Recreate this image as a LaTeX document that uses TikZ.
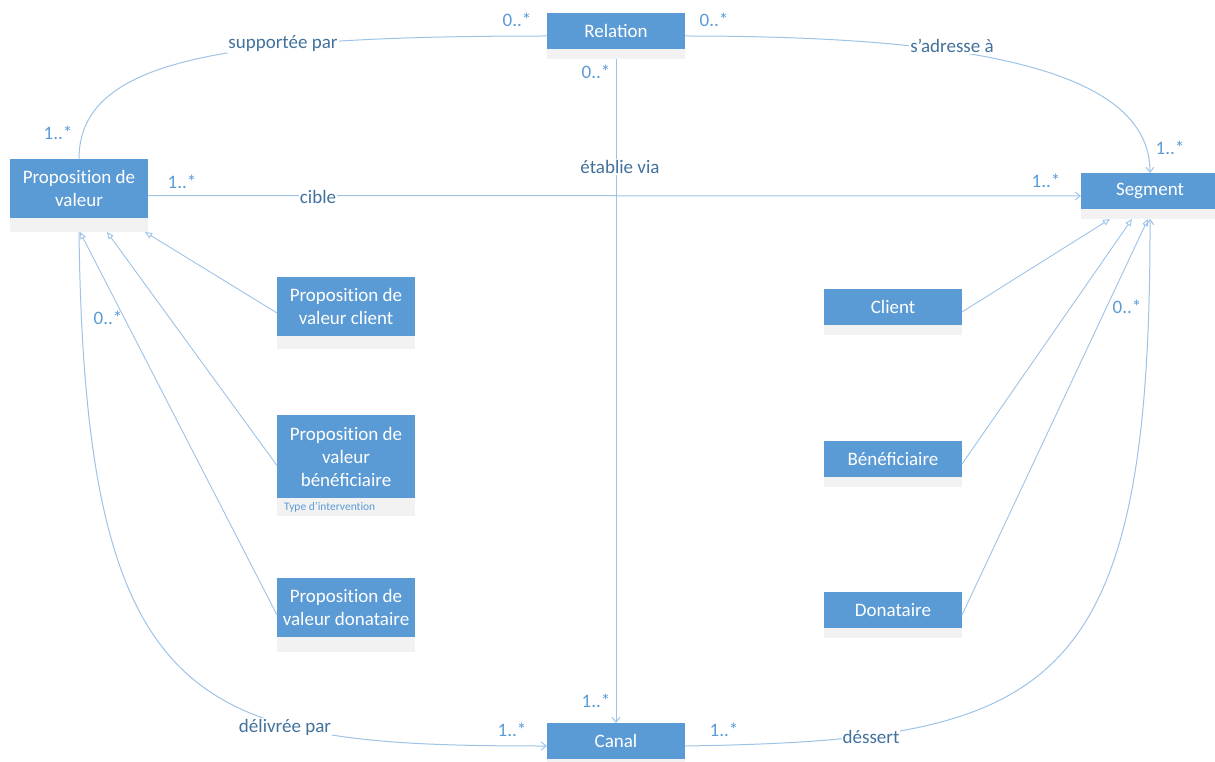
\documentclass[tikz,border=0pt]{standalone}
\usepackage{fontspec}
\setmainfont{Carlito}
\usetikzlibrary{arrows.meta}

\definecolor{classblue}{HTML}{5B9BD5}
\definecolor{classgrey}{HTML}{F2F2F2}
\definecolor{linkblue}{HTML}{9DC3E6}
\definecolor{rolecol}{HTML}{41719C}
\definecolor{multcol}{HTML}{5B9BD5}

% keep "t" and "i" as separate glyphs
\newcommand\tI{t\kern0pt i}

\tikzset{
  classbox/.style={rectangle, fill=classgrey, draw=none, minimum width=138pt,
    inner sep=0pt, outer sep=0pt},
  classname/.style={text=white, align=center, inner sep=0pt,
    font=\fontsize{19}{23}\selectfont},
  attrtext/.style={text=multcol, inner sep=0pt, font=\fontsize{11.5}{13}\selectfont},
  assoc/.style={draw=linkblue, line width=1pt},
  navig/.style={assoc, -{Straight Barb[length=5pt,width=8pt]}},
  inherit/.style={draw=linkblue, line width=0.9pt,
    -{Triangle[open,length=7pt,width=6pt]}},
  rolename/.style={text=rolecol, fill=white, inner sep=1pt,
    font=\fontsize{19}{23}\selectfont},
  mult/.style={text=multcol, inner sep=0pt, font=\fontsize{19}{23}\selectfont},
}

% class box: name, x, top y, height of the blue title, total height, title
\newcommand\umlclass[6]{%
  \node[classbox, minimum height=#5pt, anchor=north west] (#1) at (#2,#3) {};
  \fill[classblue] (#1.north west) rectangle ([yshift=-#4pt]#1.north east);
  \path (#1.north west) -- ([yshift=-#4pt]#1.north east)
    node[midway, classname] (#1-name) {#6};
}

\begin{document}
\begin{tikzpicture}[x=1pt, y=-1pt]
\useasboundingbox (0,0) rectangle (1215,762);

% classes
\umlclass{pv}{10}{159}{59}{73}{Proposi\tI on de\\valeur}
\umlclass{rel}{547}{13}{36}{46}{Relation}
\umlclass{seg}{1081}{173}{36}{46}{Segment}
\umlclass{can}{547}{723}{36}{46}{Canal}
\umlclass{pvc}{277}{277}{59}{72}{Proposi\tI on de\\valeur client}
\umlclass{pvb}{277}{415}{83}{101}{Proposi\tI on de\\valeur\\bénéficiaire}
\umlclass{pvd}{277}{578}{59}{74}{Proposi\tI on de\\valeur donataire}
\umlclass{cli}{824}{289}{36}{46}{Client}
\umlclass{ben}{824}{441}{36}{46}{Bénéficiaire}
\umlclass{don}{824}{592}{36}{46}{Donataire}
\node[attrtext, anchor=west] (pvb-attr) at (284,507) {Type d'interven\tI on};

% associations
\draw[assoc] (rel.west) .. controls +(-327,0) and +(0,-99) .. (pv.north);
\draw[navig] (rel.east) .. controls +(300,0) and +(0,-100) .. (seg.north);
\draw[navig] (rel.south) -- (can.north);
\draw[navig] (pv.east) -- (seg.west);
\draw[navig] (pv.south) .. controls +(6,488) and +(-347,0) .. (can.west);
\draw[navig] (can.east) .. controls +(365,-6) and +(1,481) .. (seg.south);

% generalisations
\draw[inherit] (pvc.west) -- ([xshift=66pt]pv.south);
\draw[inherit] (pvb.west) -- ([xshift=28pt]pv.south);
\draw[inherit] (pvd.west) -- ([xshift=1pt]pv.south);
\draw[inherit] (cli.east) -- ([xshift=-40pt]seg.south);
\draw[inherit] (ben.east) -- ([xshift=-18pt]seg.south);
\draw[inherit] (don.east) -- ([xshift=-2pt]seg.south);

% role names
\node[rolename] (l-supp) at (283,44) {supportée par};
\node[rolename] (l-adr) at (952,46) {s’adresse à};
\node[rolename] (l-etab) at (620,167) {établie via};
\node[rolename] (l-cible) at (318,197) {cible};
\node[rolename] (l-deliv) at (285,727) {délivrée par};
\node[rolename] (l-dess) at (871,737) {déssert};

% multiplicities
\node[mult] (m1) at (517,20) {0..*};
\node[mult] (m2) at (714,20) {0..*};
\node[mult] (m3) at (596,72) {0..*};
\node[mult] (m4) at (58,133) {1..*};
\node[mult] (m5) at (182,182) {1..*};
\node[mult] (m6) at (1046,181) {1..*};
\node[mult] (m7) at (1170,148) {1..*};
\node[mult] (m8) at (108,318) {0..*};
\node[mult] (m9) at (1127,307) {0..*};
\node[mult] (m10) at (596,701) {1..*};
\node[mult] (m11) at (512,730) {1..*};
\node[mult] (m12) at (724,730) {1..*};
\end{tikzpicture}
\end{document}
